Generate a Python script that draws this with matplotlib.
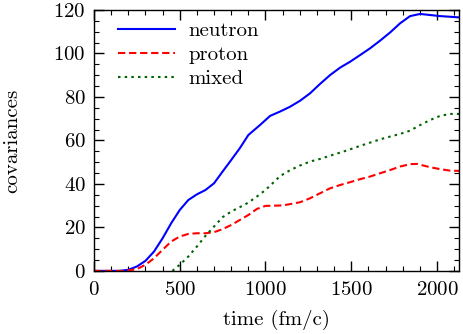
import numpy as np
import matplotlib
matplotlib.use('Agg')
import matplotlib.pyplot as plt
from matplotlib.ticker import MultipleLocator

plt.rcParams['font.family'] = 'cmr10'
plt.rcParams['axes.unicode_minus'] = False
plt.rcParams['axes.formatter.use_mathtext'] = True

t_n = [0, 150, 200, 250, 300, 350, 400, 450, 500, 550, 600, 650, 700, 750, 800, 850, 900,
       968, 1027, 1085, 1143, 1202, 1260, 1318, 1377, 1435, 1493, 1552, 1610, 1668, 1727,
       1785, 1843, 1902, 1960, 2018, 2077, 2130]
neutron = [0, 0, 0.5, 2, 4.6, 8.9, 15, 21.9, 28, 32.6, 35.2, 37.2, 40.3, 45.7, 51, 56.4, 62.5,
           67.1, 71.3, 73.3, 75.5, 78.3, 81.7, 86, 90.1, 93.5, 96.2, 99.3, 102.4, 105.9, 109.7,
           113.9, 117.2, 118.2, 117.7, 117.2, 116.9, 116.6]

t_p = [0, 180, 250, 300, 350, 400, 450, 500, 550, 600, 650, 700, 750, 800, 850, 900, 950,
       1000, 1050, 1100, 1143, 1202, 1260, 1318, 1377, 1435, 1493, 1552, 1610, 1668, 1727,
       1785, 1843, 1882, 1960, 2018, 2077, 2130]
proton = [0, 0, 0.8, 2.8, 5.8, 9.7, 13.5, 15.8, 17, 17.3, 17.3, 17.8, 19.2, 21.1, 23.4, 25.7,
          28.5, 29.9, 30, 30.1, 30.7, 31.6, 33.4, 35.7, 38, 39.5, 40.8, 42.2, 43.4, 44.9, 46.4,
          48, 49.1, 49.2, 47.7, 46.8, 46.1, 46]

t_m = [457, 500, 550, 600, 650, 700, 750, 800, 850, 900, 950, 1000, 1040, 1085, 1143, 1202,
       1260, 1318, 1377, 1435, 1493, 1552, 1610, 1668, 1727, 1785, 1843, 1902, 1960, 2018,
       2077, 2130]
mixed = [0, 2.8, 6.6, 11.2, 16.1, 20.4, 24.7, 27.3, 29.3, 31.4, 34.2, 37.2, 40.2, 43.6, 46.3,
         48.5, 50.3, 51.5, 53, 54.4, 55.9, 57.5, 59, 60.5, 61.8, 63, 64.5, 67.1, 69.4, 71.3,
         72.2, 72.2]

fig = plt.figure(figsize=(4.63, 3.34), dpi=100)
ax = fig.add_axes([0.203, 0.189, 0.789, 0.781])

ax.plot(t_n, neutron, color='#0000ff', lw=1.5, label='neutron')
ax.plot(t_p, proton, color='#ff0000', lw=1.5, dashes=(3.5, 1.8), label='proton')
ax.plot(t_m, mixed, color='#006400', lw=1.5, dashes=(1.2, 2.0), label='mixed')

ax.set_xlim(0, 2130)
ax.set_ylim(0, 120)
ax.xaxis.set_major_locator(MultipleLocator(500))
ax.xaxis.set_minor_locator(MultipleLocator(100))
ax.yaxis.set_major_locator(MultipleLocator(20))
ax.yaxis.set_minor_locator(MultipleLocator(5))
ax.tick_params(which='both', direction='in', top=True, right=True, labelsize=15)
ax.tick_params(which='major', length=7, width=1)
ax.tick_params(which='minor', length=3.5, width=0.8)
ax.tick_params(axis='x', pad=7)
ax.tick_params(axis='y', pad=6)
for s in ax.spines.values():
    s.set_linewidth(1)

ax.set_xlabel('time (fm/c)', fontsize=15, labelpad=8)
ax.set_ylabel('covariances', fontsize=15, labelpad=23)
ax.legend(loc='upper left', bbox_to_anchor=(0.066, 0.955), frameon=False, fontsize=15,
          handlelength=2.75, handletextpad=0.63, labelspacing=0.25,
          borderaxespad=0, borderpad=0)

fig.savefig('out.png', dpi=100)
